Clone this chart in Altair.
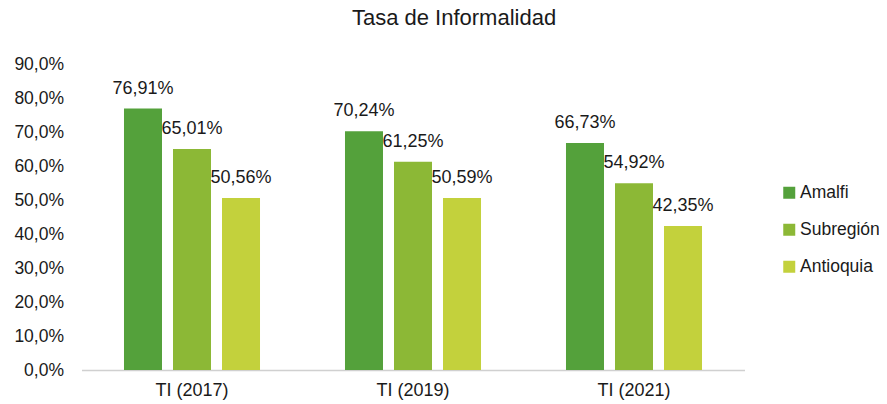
import altair as alt
import pandas as pd

periods = ["TI (2017)", "TI (2019)", "TI (2021)"]
series = ["Amalfi", "Subregión", "Antioquia"]
amalfi = [0.7691, 0.7024, 0.6673]
subregion = [0.6501, 0.6125, 0.5492]
antioquia = [0.5056, 0.5059, 0.4235]
colors = ["#54A13B", "#8CB836", "#C3D13C"]
y_ticks = [0, 0.1, 0.2, 0.3, 0.4, 0.5, 0.6, 0.7, 0.8, 0.9]

rows = []
for i, p in enumerate(periods):
    for s, vals in zip(series, [amalfi, subregion, antioquia]):
        rows.append({"periodo": p, "serie": s, "valor": vals[i]})
df = pd.DataFrame(rows)

FONT = "Liberation Sans"
TXT = "#1a1a1a"

y_axis = alt.Axis(values=y_ticks,
                  labelExpr="replace(format(datum.value, '.1%'), '.', ',')",
                  labelOverlap=False,
                  grid=False, domain=False, ticks=False,
                  labelFontSize=17.5, labelPadding=18,
                  labelColor=TXT, labelFont=FONT)
y_scale = alt.Scale(domain=[0, 0.9], nice=False)

base = alt.Chart(df).encode(
    x=alt.X("periodo:N", sort=periods, title=None,
            scale=alt.Scale(paddingInner=0, paddingOuter=0),
            axis=alt.Axis(labelAngle=0, ticks=False, domainColor="#D0D0D0",
                          domainWidth=1.5, labelFontSize=18, labelPadding=11,
                          labelColor=TXT, labelFont=FONT)),
    xOffset=alt.XOffset("serie:N", sort=series,
                        scale=alt.Scale(paddingInner=0.2245, paddingOuter=0.867)),
    y=alt.Y("valor:Q", title=None, scale=y_scale, axis=y_axis),
)

bars = base.mark_bar().encode(
    color=alt.Color("serie:N", sort=series,
                    scale=alt.Scale(domain=series, range=colors),
                    legend=alt.Legend(title=None, orient="none", legendX=699, legendY=120,
                                      symbolType="square", symbolSize=144,
                                      symbolStrokeWidth=0, labelFontSize=17.5,
                                      labelFont=FONT, labelColor=TXT,
                                      rowPadding=18, labelOffset=2, labelLimit=200)),
)

labels = base.mark_text(dy=-20, fontSize=18, font=FONT, color=TXT).encode(
    text=alt.Text("etiqueta:N"),
).transform_calculate(
    etiqueta="replace(format(datum.valor, '.2%'), '.', ',')"
)

chart = (bars + labels).properties(
    width=663, height=306,
    title="Tasa de Informalidad",
    padding={"left": 73.5, "top": 56, "right": 134.5, "bottom": 34},
    autosize=alt.AutoSizeParams(type="none"),
).configure_view(stroke=None).configure_title(
    fontSize=22, font=FONT, fontWeight="normal", color=TXT, anchor="middle",
    dx=41, offset=25
)

chart.save("out.html", embed_options={"renderer": "svg", "actions": False})
